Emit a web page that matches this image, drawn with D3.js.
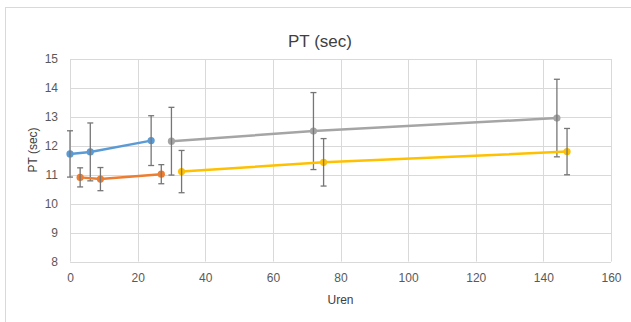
<!DOCTYPE html>
<html><head><meta charset="utf-8">
<script src="https://cdn.jsdelivr.net/npm/d3@7"></script>
<style>body{margin:0;background:#fff;}svg{display:block;font-family:"Liberation Sans",Arial,sans-serif;}</style>
</head><body>
<script>
const seriesNames = ["A","B","C","D"];
const seriesColors = ["#5B9BD5","#ED7D31","#A5A5A5","#FFC000"];
const blueX = [0, 6, 24];
const blueY = [11.72, 11.79, 12.18];
const blueErr = [0.8, 1.0, 0.86];
const orangeX = [3, 9, 27];
const orangeY = [10.91, 10.85, 11.02];
const orangeErr = [0.33, 0.4, 0.33];
const grayX = [30, 72, 144];
const grayY = [12.16, 12.51, 12.96];
const grayErr = [1.17, 1.33, 1.34];
const yellowX = [33, 75, 147];
const yellowY = [11.11, 11.43, 11.8];
const yellowErr = [0.73, 0.82, 0.8];
const xTicks = [0,20,40,60,80,100,120,140,160];
const yTicks = [8,9,10,11,12,13,14,15];
const title = "PT (sec)";
const xTitle = "Uren";
const yTitle = "PT (sec)";

const W = 631, H = 322;
const svg = d3.select("body").append("svg").attr("width",W).attr("height",H);
svg.append("rect").attr("x",5.5).attr("y",7.5).attr("width",W).attr("height",H).attr("fill","#fff").attr("stroke","#d9d9d9").attr("stroke-width",1);

const x = d3.scaleLinear().domain([0,160]).range([70,611]);
const y = d3.scaleLinear().domain([8,15]).range([261.6,59]);

const g = svg.append("g");
g.selectAll(".hg").data(yTicks).join("line")
  .attr("x1",x(0)).attr("x2",x(160)).attr("y1",d=>Math.round(y(d))+0.5).attr("y2",d=>Math.round(y(d))+0.5)
  .attr("stroke","#d9d9d9").attr("stroke-width",1);
g.selectAll(".vg").data(xTicks).join("line")
  .attr("y1",y(8)).attr("y2",y(15)).attr("x1",d=>Math.round(x(d))+0.5).attr("x2",d=>Math.round(x(d))+0.5)
  .attr("stroke","#d9d9d9").attr("stroke-width",1);

const xAxis = d3.axisBottom(x).tickValues(xTicks).tickSize(0).tickPadding(12).tickFormat(d3.format("d"));
const gx = svg.append("g").attr("transform",`translate(0,${y(8)})`).call(xAxis);
gx.select(".domain").remove();
gx.selectAll("text").attr("fill","#595959").style("font-size","12px");
const yAxis = d3.axisLeft(y).tickValues(yTicks).tickSize(0).tickPadding(12).tickFormat(d3.format("d"));
const gy = svg.append("g").attr("transform",`translate(${x(0)},0)`).call(yAxis);
gy.select(".domain").remove();
gy.selectAll("text").attr("fill","#595959").style("font-size","12px");

svg.append("text").attr("x",320).attr("y",47).attr("text-anchor","middle").attr("fill","#404040").style("font-size","17px").text(title);
svg.append("text").attr("x",x(80)).attr("y",304).attr("text-anchor","middle").attr("fill","#404040").style("font-size","12px").text(xTitle);
svg.append("text").attr("transform",`translate(37,150) rotate(-90)`).attr("text-anchor","middle").attr("fill","#404040").style("font-size","12px").text(yTitle);

const series = [
  {xs:blueX, ys:blueY, es:blueErr, c:seriesColors[0]},
  {xs:orangeX, ys:orangeY, es:orangeErr, c:seriesColors[1]},
  {xs:grayX, ys:grayY, es:grayErr, c:seriesColors[2]},
  {xs:yellowX, ys:yellowY, es:yellowErr, c:seriesColors[3]}
];
const line = d3.line().x(d=>x(d[0])).y(d=>y(d[1]));
series.forEach(s=>{
  const pts = s.xs.map((v,i)=>[v,s.ys[i],s.es[i]]);
  const sg = svg.append("g");
  sg.append("path").datum(pts).attr("d",line).attr("fill","none").attr("stroke",s.c).attr("stroke-width",2.5).attr("stroke-linecap","round");
  sg.selectAll("circle").data(pts).join("circle").attr("cx",d=>x(d[0])).attr("cy",d=>y(d[1])).attr("r",3.6).attr("fill",s.c);
  const eb = sg.selectAll(".eb").data(pts).join("g").attr("stroke","#767676").attr("stroke-width",1.3);
  eb.append("line").attr("x1",d=>x(d[0])).attr("x2",d=>x(d[0])).attr("y1",d=>y(d[1]+d[2])).attr("y2",d=>y(d[1]-d[2]));
  eb.append("line").attr("x1",d=>x(d[0])-3).attr("x2",d=>x(d[0])+3).attr("y1",d=>y(d[1]+d[2])).attr("y2",d=>y(d[1]+d[2]));
  eb.append("line").attr("x1",d=>x(d[0])-3).attr("x2",d=>x(d[0])+3).attr("y1",d=>y(d[1]-d[2])).attr("y2",d=>y(d[1]-d[2]));
});
</script>
</body></html>
